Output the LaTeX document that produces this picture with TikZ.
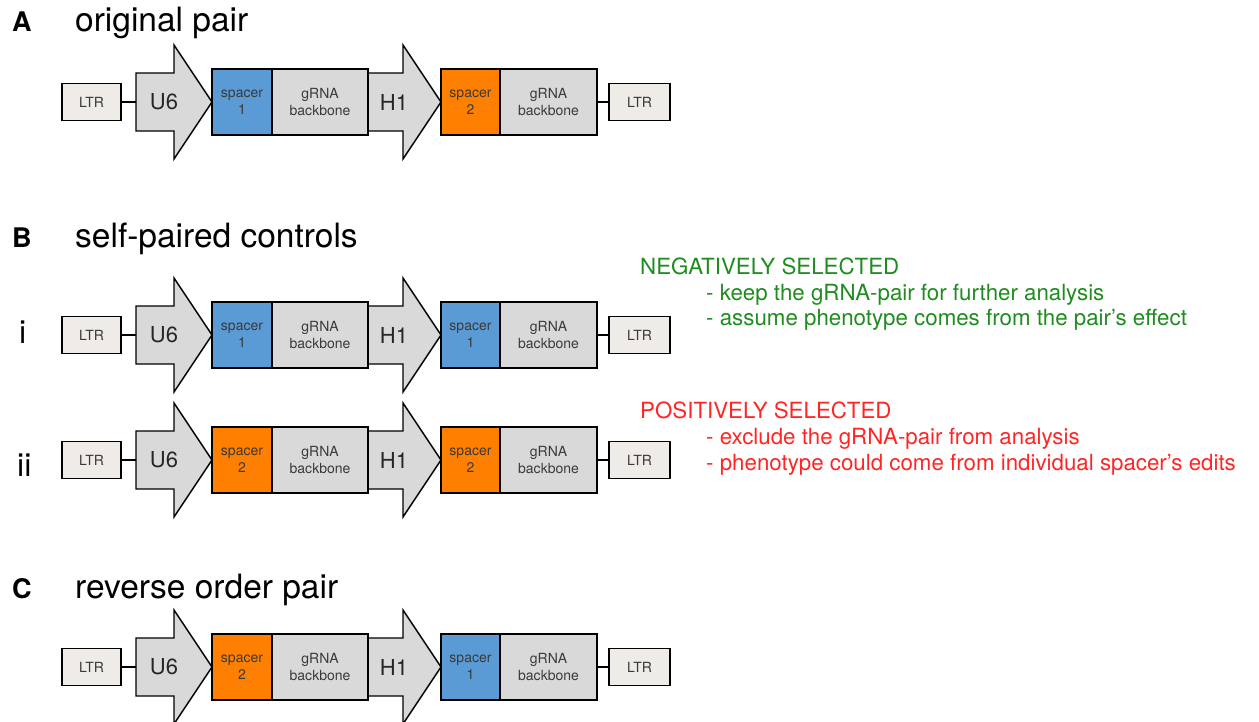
\documentclass[tikz,border=0pt]{standalone}
\usepackage{fontspec}
\setmainfont{TeX Gyre Heros}
\definecolor{spblue}{HTML}{5B9BD5}
\definecolor{sporange}{HTML}{FF7F00}
\definecolor{boxgray}{HTML}{D9D9D9}
\definecolor{ltrfill}{HTML}{EFEBE7}
\definecolor{txtgray}{HTML}{3A3A3A}
\definecolor{neggreen}{HTML}{1E8C1E}
\definecolor{posred}{HTML}{FF2525}
\tikzset{
  box/.style={draw=black, line width=1.6pt, inner sep=0pt, minimum height=66pt,
    font=\fontsize{14}{17}\selectfont, text=txtgray, align=center},
  ltr/.style={draw=black, line width=1.6pt, fill=ltrfill, minimum width=59pt,
    minimum height=37pt, inner sep=0pt, font=\fontsize{14}{17}\selectfont, text=txtgray},
  prom/.style={draw=black, line width=1.4pt, fill=boxgray, line join=miter},
  promtext/.style={font=\fontsize{22}{24}\selectfont, text=black!85},
  link/.style={line width=1.6pt},
  title/.style={anchor=base west, font=\fontsize{33.5}{36}\selectfont, inner sep=0pt},
  letter/.style={anchor=base west, font=\fontsize{27}{30}\selectfont\bfseries, inner sep=0pt},
  roman/.style={anchor=base west, font=\fontsize{32}{34}\selectfont, inner sep=0pt},
  note/.style={anchor=base west, font=\fontsize{22.3}{26}\selectfont, inner sep=0pt},
}
% #1 prefix, #2 center y, #3 colour 1, #4 number 1, #5 colour 2, #6 number 2
\newcommand\construct[6]{%
  \begin{scope}[yshift=-#2pt]
    \draw[prom] (136,-29) -- (174,-29) -- (174,-57) -- (212,0) -- (174,57) -- (174,29) -- (136,29) -- cycle;
    \draw[prom] (368,-29) -- (403,-29) -- (403,-57) -- (441,0) -- (403,57) -- (403,29) -- (368,29) -- cycle;
    \coordinate (#1-u6in) at (136,0);
    \node[promtext] (#1-u6) at (164,0) {U6};
    \node[promtext] (#1-h1) at (394,0) {H1};
    \node[ltr] (#1-ltrL) at (91.5,0) {LTR};
    \node[ltr, minimum width=61pt] (#1-ltrR) at (639.5,0) {LTR};
    \node[box, fill=#3, minimum width=60pt] (#1-sp1) at (242,0) {spacer\\#4};
    \node[box, fill=boxgray, minimum width=96pt] (#1-bb1) at (320,0) {gRNA\\backbone};
    \node[box, fill=#5, minimum width=59pt] (#1-sp2) at (470.5,0) {spacer\\#6};
    \node[box, fill=boxgray, minimum width=97pt] (#1-bb2) at (548.5,0) {gRNA\\backbone};
    \draw[link] (#1-ltrL.east) -- (#1-u6in);
    \draw[link] (#1-bb2.east) -- (#1-ltrR.west);
  \end{scope}
}
\begin{document}
\begin{tikzpicture}[x=1pt,y=-1pt]
  \useasboundingbox (0,0) rectangle (1259,722);
  % titles
  \node[letter] (lA) at (12,32) {A};
  \node[title] (tA) at (75,32) {original pair};
  \node[letter] (lB) at (12,248) {B};
  \node[title] (tB) at (75,248) {self-paired controls};
  \node[letter] (lC) at (12,598) {C};
  \node[title] (tC) at (75,598) {reverse order pair};
  \node[roman] (ri) at (19,343) {i};
  \node[roman] (rii) at (17,476) {ii};
  % constructs
  \construct{a}{102}{spblue}{1}{sporange}{2}
  \construct{bi}{335}{spblue}{1}{spblue}{1}
  \construct{bii}{460}{sporange}{2}{sporange}{2}
  \construct{c}{667}{sporange}{2}{spblue}{1}
  % notes
  \node[note, text=neggreen] (n0) at (640,275) {NEGATIVELY SELECTED};
  \node[note, text=neggreen] (n1) at (706,301) {- keep the gRNA-pair for further analysis};
  \node[note, text=neggreen] (n2) at (706,326) {- assume phenotype comes from the pair’s effect};
  \node[note, text=posred] (p0) at (640,418) {POSITIVELY SELECTED};
  \node[note, text=posred] (p1) at (706,444) {- exclude the gRNA-pair from analysis};
  \node[note, text=posred] (p2) at (706,470) {- phenotype could come from individual spacer’s edits};
\end{tikzpicture}
\end{document}
